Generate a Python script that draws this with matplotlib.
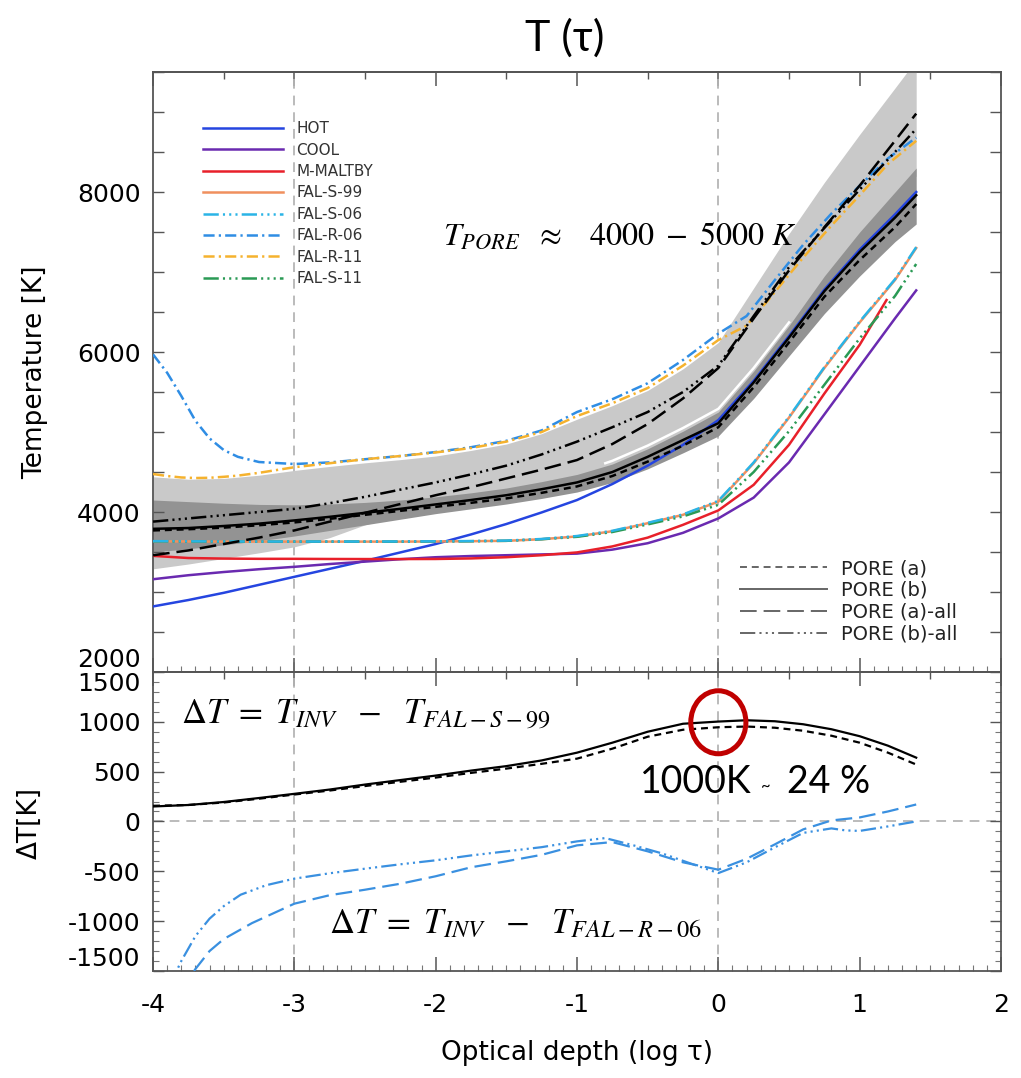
import matplotlib
matplotlib.use('Agg')
import matplotlib.pyplot as plt
from matplotlib.patches import Ellipse
from matplotlib.ticker import MultipleLocator
from matplotlib.lines import Line2D

plt.rcParams['axes.unicode_minus'] = False
plt.rcParams['mathtext.fontset'] = 'stix'
plt.rcParams['lines.scale_dashes'] = False

# ---------------- data ----------------
xg = [-4, -3.75, -3.5, -3.25, -3, -2.75, -2.5, -2.25, -2, -1.75, -1.5, -1.25,
      -1, -0.75, -0.5, -0.25, 0, 0.25, 0.5, 0.75, 1.0, 1.25, 1.4]

hot = [2820, 2900, 2990, 3090, 3190, 3290, 3390, 3495, 3600, 3720, 3850, 3995,
       4150, 4350, 4580, 4840, 5150, 5640, 6200, 6780, 7280, 7720, 8000]
cool = [3160, 3210, 3250, 3285, 3315, 3350, 3380, 3410, 3435, 3450, 3460, 3470,
        3480, 3530, 3610, 3740, 3920, 4180, 4620, 5220, 5820, 6420, 6770]

x_maltby = [-4, -3.75, -3.5, -3.25, -3, -2.75, -2.5, -2.25, -2, -1.75, -1.5, -1.25,
            -1, -0.75, -0.5, -0.25, 0, 0.25, 0.5, 0.75, 1.0, 1.19]
maltby = [3452, 3425, 3418, 3415, 3415, 3413, 3412, 3412, 3413, 3420, 3435, 3460,
          3495, 3570, 3680, 3840, 4020, 4340, 4840, 5480, 6090, 6650]

fal_s99 = [3634, 3632, 3630, 3630, 3630, 3630, 3630, 3630, 3632, 3635, 3640, 3660,
           3695, 3760, 3860, 3965, 4130, 4610, 5180, 5800, 6370, 6900, 7300]
fal_s06 = [3636, 3634, 3632, 3631, 3631, 3631, 3631, 3632, 3634, 3637, 3643, 3663,
           3700, 3765, 3865, 3970, 4140, 4620, 5190, 5810, 6380, 6910, 7310]
fal_s11 = [3634, 3632, 3630, 3630, 3630, 3630, 3630, 3630, 3632, 3635, 3640, 3660,
           3690, 3750, 3845, 3945, 4090, 4500, 5010, 5590, 6170, 6700, 7100]

x_r = [-4, -3.9, -3.8, -3.7, -3.6, -3.5, -3.4, -3.25, -3, -2.75, -2.5, -2.25, -2,
       -1.75, -1.5, -1.25, -1, -0.75, -0.5, -0.25, 0, 0.2, 0.4, 0.6, 0.8, 1.0, 1.2, 1.4]
fal_r06 = [5970, 5740, 5450, 5140, 4920, 4775, 4690, 4625, 4600, 4620, 4660, 4700, 4750,
           4810, 4890, 5020, 5250, 5410, 5610, 5900, 6230, 6450, 6900, 7340, 7730, 8080, 8420, 8680]
fal_r11 = [4475, 4450, 4432, 4425, 4428, 4440, 4455, 4490, 4560, 4610, 4660, 4700, 4745,
           4800, 4880, 5000, 5200, 5360, 5550, 5830, 6150, 6330, 6750, 7180, 7580, 7960, 8350, 8640]

pore_a = [3770, 3785, 3805, 3835, 3870, 3915, 3965, 4015, 4065, 4115, 4170, 4240,
          4320, 4450, 4630, 4830, 5060, 5560, 6120, 6690, 7150, 7560, 7850]
pore_b = [3790, 3800, 3825, 3855, 3895, 3940, 3990, 4040, 4095, 4150, 4210, 4285,
          4370, 4500, 4690, 4900, 5110, 5620, 6180, 6760, 7250, 7680, 7960]
pore_a_all = [3460, 3520, 3600, 3680, 3770, 3880, 3990, 4100, 4210, 4310, 4420, 4530,
              4650, 4850, 5100, 5420, 5800, 6420, 7020, 7560, 8080, 8640, 8980]
pore_b_all = [3880, 3920, 3960, 4000, 4040, 4110, 4190, 4280, 4370, 4470, 4580, 4720,
              4880, 5060, 5250, 5500, 5830, 6450, 7060, 7550, 8030, 8500, 8790]

band_all_hi = [4440, 4410, 4420, 4460, 4520, 4570, 4615, 4655, 4700, 4770, 4850, 4980,
               5160, 5330, 5520, 5790, 6120, 6800, 7480, 8120, 8720, 9300, 9650]
band_all_lo = [3290, 3350, 3420, 3490, 3565, 3680, 3840, 3950, 4050, 4120, 4200, 4300,
               4400, 4550, 4750, 4980, 5200, 5700, 6250, 6850, 7400, 7900, 8200]
band_hi = [4150, 4130, 4110, 4095, 4090, 4100, 4120, 4150, 4190, 4240, 4300, 4380,
           4470, 4600, 4790, 5010, 5250, 5760, 6330, 6950, 7500, 8000, 8300]
band_lo = [3500, 3540, 3590, 3640, 3700, 3770, 3840, 3910, 3980, 4040, 4100, 4170,
           4250, 4370, 4540, 4740, 4950, 5420, 5950, 6480, 6950, 7380, 7600]

x_gap = [-0.8, -0.75, -0.5, -0.25, 0, 0.25, 0.5]
gap = [4610, 4640, 4830, 5050, 5290, 5800, 6370]

# bottom panel: Delta T
xd = [-4, -3.75, -3.5, -3.25, -3, -2.75, -2.5, -2.25, -2, -1.75, -1.5, -1.25,
      -1, -0.75, -0.5, -0.25, 0, 0.2, 0.4, 0.6, 0.8, 1.0, 1.2, 1.4]
dt_s99_b = [150, 165, 195, 235, 277, 320, 370, 415, 460, 510, 555, 612,
            690, 790, 900, 980, 1002, 1015, 1005, 975, 925, 855, 760, 640]
dt_s99_a = [157, 165, 190, 228, 270, 310, 355, 398, 440, 487, 530, 578,
            630, 730, 850, 920, 945, 952, 940, 910, 860, 790, 690, 571]

x_r06_a = [-3.8, -3.7, -3.6, -3.5, -3.3, -3.0, -2.75, -2.5, -2.25, -2.0, -1.75, -1.5,
           -1.25, -1.0, -0.75, -0.5, -0.25, 0, 0.2, 0.4, 0.6, 0.8, 1.0, 1.2, 1.4]
dt_r06_a = [-1700, -1480, -1300, -1180, -1020, -825, -740, -685, -625, -550, -460, -400,
            -335, -240, -207, -300, -410, -484, -375, -230, -80, 10, 40, 100, 170]
x_r06_b = [-3.9, -3.8, -3.7, -3.6, -3.5, -3.38, -3.2, -3.0, -2.75, -2.5, -2.25, -2.0,
           -1.75, -1.5, -1.25, -1.0, -0.8, -0.6, -0.4, -0.2, 0, 0.2, 0.4, 0.6, 0.8,
           0.9, 1.0, 1.2, 1.4]
dt_r06_b = [-1700, -1400, -1150, -975, -850, -735, -640, -574, -520, -474, -430, -390,
            -341, -300, -258, -200, -167, -240, -320, -420, -518, -410, -260, -115, -70,
            -90, -95, -50, 0]

# ---------------- styles ----------------
c_hot, c_cool, c_red = '#2545e0', '#6a2ab0', '#e8202a'
c_s99, c_s06, c_r06, c_r11, c_s11 = '#f0905e', '#2ab4e6', '#2f8de4', '#f5b22e', '#2a9a55'
c_dblue = '#3a90e0'
ls_short = (0, (5, 3.5))
ls_long = (0, (12, 5))
ls_d3d = (0, (11, 3, 1.5, 3, 1.5, 3, 1.5, 3))
ls_dd = (0, (8, 3, 1.6, 3))

fig = plt.figure(figsize=(10.21, 10.78), dpi=100)
ax1 = fig.add_axes([0.1499, 0.3766, 0.8305, 0.5566])
ax2 = fig.add_axes([0.1499, 0.0993, 0.8305, 0.2774])

# ---------------- top panel ----------------
ax1.fill_between(xg, band_all_lo, band_all_hi, color='#c9c9c9', lw=0, zorder=1)
ax1.fill_between(xg, band_lo, band_hi, color='#939393', lw=0, zorder=1.1)
ax1.plot(x_gap, gap, color='white', lw=1.8, zorder=1.2)

for xv in (-3, 0):
    ax1.axvline(xv, color='#b5b5b5', lw=1.3, ls=(0, (7, 5)), zorder=0.5)
    ax2.axvline(xv, color='#b5b5b5', lw=1.3, ls=(0, (7, 5)), zorder=0.5)
ax2.axhline(0, color='#b5b5b5', lw=1.3, ls=(0, (7, 5)), zorder=0.5)

h_hot, = ax1.plot(xg, hot, color=c_hot, lw=1.8, zorder=3)
h_cool, = ax1.plot(xg, cool, color=c_cool, lw=1.8, zorder=3)
h_red, = ax1.plot(x_maltby, maltby, color=c_red, lw=1.8, zorder=3)
h_s99, = ax1.plot(xg, fal_s99, color=c_s99, lw=1.8, zorder=3)
h_s06, = ax1.plot(xg, fal_s06, color=c_s06, lw=1.8, ls=ls_d3d, zorder=3.1)
h_s11, = ax1.plot(xg, fal_s11, color=c_s11, lw=1.8, ls=ls_d3d, zorder=3)
h_r06, = ax1.plot(x_r, fal_r06, color=c_r06, lw=1.8, ls=ls_dd, zorder=3)
h_r11, = ax1.plot(x_r, fal_r11, color=c_r11, lw=1.8, ls=ls_dd, zorder=3.1)

ax1.plot(xg, pore_a, color='black', lw=1.8, ls=ls_short, zorder=4)
ax1.plot(xg, pore_b, color='black', lw=1.8, zorder=4)
ax1.plot(xg, pore_a_all, color='black', lw=1.8, ls=ls_long, zorder=4)
ax1.plot(xg, pore_b_all, color='black', lw=1.8, ls=ls_d3d, zorder=4)

ax1.set_xlim(-4, 2)
ax1.set_ylim(2000, 9500)

leg1 = ax1.legend([h_hot, h_cool, h_red, h_s99, h_s06, h_r06, h_r11, h_s11],
                  ['HOT', 'COOL', 'M-MALTBY', 'FAL-S-99', 'FAL-S-06', 'FAL-R-06', 'FAL-R-11', 'FAL-S-11'],
                  loc='upper left', bbox_to_anchor=(0.059, 0.918), frameon=False, fontsize=11,
                  handlelength=5.2, handletextpad=0.9, labelspacing=0.42, borderpad=0,
                  borderaxespad=0, labelcolor='#333333')
ax1.add_artist(leg1)
proxies = [Line2D([], [], color='#666666', lw=1.4, ls=ls_short),
           Line2D([], [], color='#666666', lw=1.4),
           Line2D([], [], color='#666666', lw=1.4, ls=ls_long),
           Line2D([], [], color='#666666', lw=1.4, ls=ls_d3d)]
ax1.legend(proxies, ['PORE (a)', 'PORE (b)', 'PORE (a)-all', 'PORE (b)-all'],
           loc='upper left', bbox_to_anchor=(0.692, 0.188), frameon=False, fontsize=14,
           handlelength=4.5, handletextpad=0.7, labelspacing=0.14, borderpad=0,
           borderaxespad=0, labelcolor='#222222')

ax1.text(-1.95, 7344, r'$T_{PORE}\ \ \approx\ \ \ 4000\ -\ 5000\ K$', fontsize=23,
         color='black', va='baseline', zorder=6)

# ---------------- bottom panel ----------------
ax2.plot(xd, dt_s99_b, color='black', lw=1.6, zorder=4)
ax2.plot(xd, dt_s99_a, color='black', lw=1.6, ls=ls_short, zorder=4)
ax2.plot(x_r06_a, dt_r06_a, color=c_dblue, lw=1.6, ls=ls_long, zorder=4)
ax2.plot(x_r06_b, dt_r06_b, color=c_dblue, lw=1.6, ls=ls_d3d, zorder=4)
ax2.set_xlim(-4, 2)
ax2.set_ylim(-1500, 1500)

ax2.text(-3.80, 982, r'$\Delta T\ =\ T_{INV}\ \ -\ \ T_{FAL-S-99}$', fontsize=25,
         color='black', va='baseline')
ax2.text(-2.755, -1120, r'$\Delta T\ =\ T_{INV}\ \ -\ \ T_{FAL-R-06}$', fontsize=25,
         color='black', va='baseline')
cal = ['Lato', 'Open Sans', 'DejaVu Sans']
ax2.text(-0.553, 284, '1000K', fontsize=27, family=cal, va='baseline')
ax2.text(0.30, 300, '~', fontsize=12, family=cal, va='baseline')
ax2.text(0.487, 284, '24 %', fontsize=27, family=cal, va='baseline')
ax2.add_patch(Ellipse((0.0, 995), 0.39, 632, fill=False, ec='#c00000', lw=3.6, zorder=6))

# ---------------- axes styling ----------------
for ax in (ax1, ax2):
    for sp in ax.spines.values():
        sp.set_color('#555555')
        sp.set_linewidth(1.3)
    ax.xaxis.set_major_locator(MultipleLocator(1))
    ax.xaxis.set_minor_locator(MultipleLocator(0.1))
    ax.tick_params(axis='x', which='major', direction='in', length=10, width=1.1,
                   color='#555555', bottom=True, top=False)
    ax.tick_params(axis='x', which='minor', direction='in', length=4, width=0.8,
                   color='#777777', bottom=True, top=False)
    sec = ax.secondary_xaxis('top')
    sec.xaxis.set_major_locator(MultipleLocator(1))
    sec.xaxis.set_minor_locator(MultipleLocator(0.5))
    sec.tick_params(which='major', direction='in', length=10, width=1.1, color='#555555',
                    labeltop=False)
    sec.tick_params(which='minor', direction='in', length=5, width=1.0, color='#555555')
    sec.spines['top'].set_color('#555555')
    sec.spines['top'].set_linewidth(1.3)

ax1.tick_params(axis='x', labelbottom=False)
ax1.set_yticks([2000, 4000, 6000, 8000], labels=['2000', '4000', '6000', '8000'])
ax1.yaxis.set_minor_locator(MultipleLocator(500))
ax1.tick_params(axis='y', which='both', direction='in', length=8, width=1.0, color='#555555',
                left=True, right=True, labelsize=18, pad=9)
ax1.get_yticklabels()[0].set_va('bottom')

dt_ticks = [-1500, -1000, -500, 0, 500, 1000, 1500]
ax2.set_yticks(dt_ticks, labels=[str(v) for v in dt_ticks])
ax2.yaxis.set_minor_locator(MultipleLocator(100))
ax2.tick_params(axis='y', which='major', direction='in', length=8, width=1.0, color='#555555',
                left=True, right=True, labelsize=18, pad=9)
ax2.tick_params(axis='y', which='minor', direction='in', length=4, width=0.8, color='#777777',
                left=True, right=True)
ylab2 = ax2.get_yticklabels()
ylab2[0].set_va('bottom')
ylab2[-1].set_va('top')
ax2.tick_params(axis='x', labelsize=18, pad=16)

ax1.set_ylabel('Temperature [K]', fontsize=19)
ax1.yaxis.label.set_va('center')
ax1.yaxis.set_label_coords(35 / 1021, 1 - 372 / 1078, transform=fig.transFigure)
ax2.set_ylabel('ΔT[K]', fontsize=19)
ax2.yaxis.label.set_va('center')
ax2.yaxis.set_label_coords(30 / 1021, 1 - 823 / 1078, transform=fig.transFigure)
ax2.set_xlabel('Optical depth (log τ)', fontsize=19)
ax2.xaxis.label.set_va('top')
ax2.xaxis.set_label_coords(577 / 1021, 1 - 1040 / 1078, transform=fig.transFigure)

fig.text(565 / 1021, 1 - 38 / 1078, 'T (τ)', ha='center', va='center', fontsize=31, family=cal)

fig.savefig('out.png', dpi=100)
